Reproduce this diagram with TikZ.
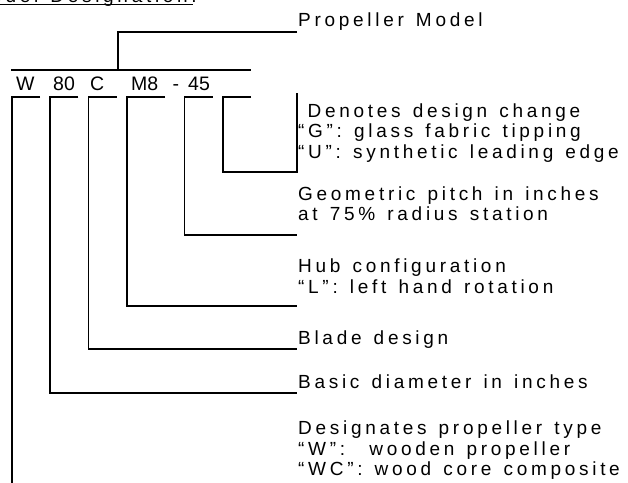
\documentclass[tikz,border=0pt]{standalone}
\usepackage{fontspec}
\setmainfont{Liberation Sans}
\newfontfamily\labfont[LetterSpace=19.5,WordSpace=1.35]{Liberation Sans}
\begin{document}
\begin{tikzpicture}[x=1pt,y=-1pt,
  lab/.style={font=\labfont\fontsize{19}{20.5}\selectfont, anchor=base west, inner sep=0pt},
  code/.style={font=\fontsize{19.5}{20.5}\selectfont, anchor=base west, inner sep=0pt},
  conn/.style={draw=black, line width=1.6pt}]
\useasboundingbox (0,0) rectangle (628,482);
\begin{scope}
\clip (0,0) rectangle (628,482);
% heading (cut off at top)
\node[lab, anchor=base east] (head) at (197,2.5) {Model Designation:};
\draw[conn] (0,4.6) coordinate (ulA) -- (193,4.6) coordinate (ulB);
% propeller model
\node[lab] (pm) at (298,26) {Propeller Model};
% code
\node[code] (cW) at (16,90.5) {W};
\node[code] (c80) at (53,90.5) {80};
\node[code] (cC) at (90,90.5) {C};
\node[code] (cM) at (131,90.5) {M8};
\node[code] (cD) at (172.5,90.5) {-};
\node[code] (c45) at (188,90.5) {45};
% labels
\node[lab] (d1) at (307.5,117) {Denotes design change};
\node[lab] (d2) at (298,137.5) {“G”: glass fabric tipping};
\node[lab] (d3) at (298,158) {“U”: synthetic leading edge};
\node[lab] (g1) at (298,200) {Geometric pitch in inches};
\node[lab] (g2) at (298,220.5) {at 75\% radius station};
\node[lab] (h1) at (298,272) {Hub configuration};
\node[lab] (h2) at (298,293) {“L”: left hand rotation};
\node[lab] (b1) at (298,344.5) {Blade design};
\node[lab] (s1) at (298,388) {Basic diameter in inches};
\node[lab] (t1) at (298,434.5) {Designates propeller type};
\node[lab] (t2) at (298,455) {“W”:\ \ wooden propeller};
\node[lab] (t3) at (298,475.5) {“WC”: wood core composite};
% coordinates
\coordinate (pmE) at (297,32);
\coordinate (codeL) at (11,70);
\coordinate (codeR) at (251,70);
\coordinate (topJ) at (118,70);
% connectors
\draw[conn] (pmE) -| (topJ);
\draw[conn] (codeL) -- (codeR);
\draw[conn] (40,96.7) -| (11.7,490);
\draw[conn] (78.3,96.7) -| (50,392.7) -- (297,392.7);
\draw[conn] (116.7,96.7) -| (88.3,349) -- (297,349);
\draw[conn] (165,96.7) -| (126.7,305.7) -- (297,305.7);
\draw[conn] (212.7,96.7) -| (184.3,235) -- (297,235);
\draw[conn] (251,96.7) -| (222.7,172) -| (297,93);
\end{scope}
\end{tikzpicture}
\end{document}
